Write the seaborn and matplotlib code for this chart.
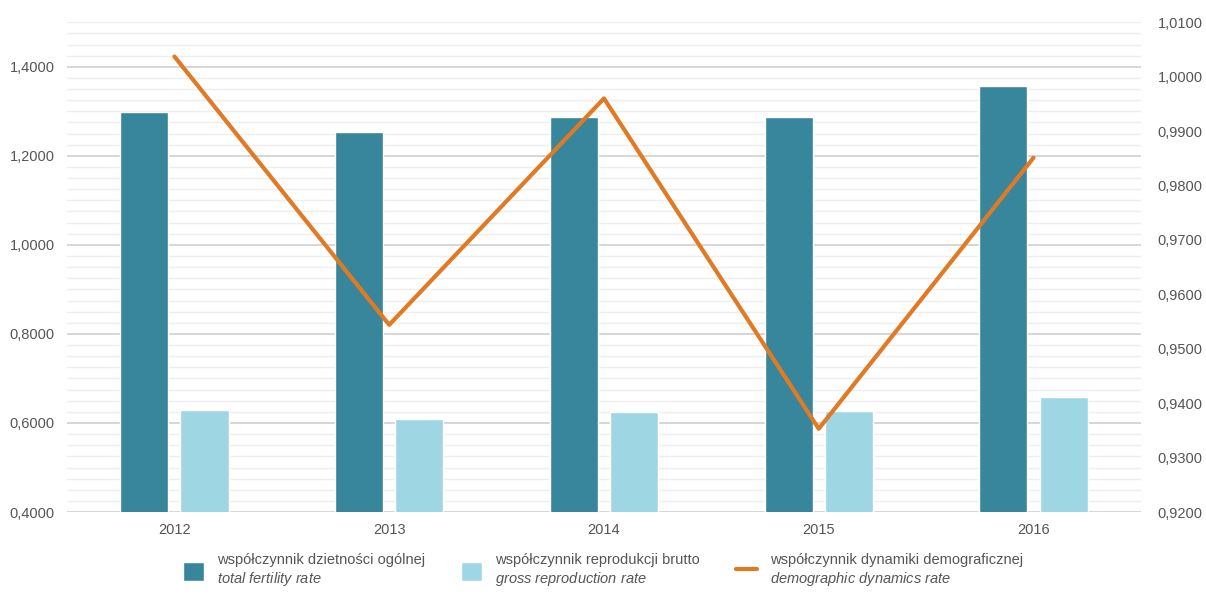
import numpy as np
import pandas as pd
import matplotlib
matplotlib.use("Agg")
import matplotlib.pyplot as plt
from matplotlib.patches import Patch
from matplotlib.lines import Line2D
from matplotlib.ticker import FuncFormatter, MultipleLocator
import seaborn as sns

# dane
years = ["2012", "2013", "2014", "2015", "2016"]
fertility = [1.298, 1.254, 1.288, 1.288, 1.356]      # współczynnik dzietności ogólnej
reproduction = [0.630, 0.609, 0.625, 0.627, 0.659]   # współczynnik reprodukcji brutto
dynamics = [1.0037, 0.9544, 0.9960, 0.9353, 0.9851]  # współczynnik dynamiki demograficznej

labels_pl = ["współczynnik dzietności ogólnej", "współczynnik reprodukcji brutto",
             "współczynnik dynamiki demograficznej"]
labels_en = ["total fertility rate", "gross reproduction rate", "demographic dynamics rate"]

DARK = "#38869c"
LIGHT = "#9fd6e4"
ORANGE = "#e07a25"
TEXT = "#555555"

sns.set_style("white")
plt.rcParams["font.family"] = ["Liberation Sans", "DejaVu Sans"]
plt.rcParams["mathtext.fontset"] = "custom"
plt.rcParams["mathtext.it"] = "Liberation Sans:italic"
plt.rcParams["mathtext.rm"] = "Liberation Sans"


def pl_fmt(v, pos):
    return f"{v:.4f}".replace(".", ",")


df = pd.DataFrame({
    "rok": years * 2,
    "wartosc": fertility + reproduction,
    "seria": [labels_pl[0]] * len(years) + [labels_pl[1]] * len(years),
})

fig = plt.figure(figsize=(12.06, 6.01), dpi=100)
ax = fig.add_axes([0.0556, 0.148, 0.8904, 0.815])

sns.barplot(data=df, x="rok", y="wartosc", hue="seria", palette=[DARK, LIGHT],
            width=0.56, gap=0.2, ax=ax, legend=False, saturation=1, zorder=3)

ax.set_ylim(0.4, 1.5)
ax.set_xlim(-0.5, len(years) - 0.5)
ax.yaxis.set_major_locator(MultipleLocator(0.2))
ax.yaxis.set_minor_locator(MultipleLocator(0.025))
ax.yaxis.set_major_formatter(FuncFormatter(pl_fmt))
ax.grid(which="major", axis="y", color="#cfcfcf", lw=1.2, zorder=0)
ax.grid(which="minor", axis="y", color="#eeeeee", lw=1.0, zorder=0)
ax.set_axisbelow(True)
ax.set_xlabel("")
ax.set_ylabel("")
ax.tick_params(axis="both", which="both", length=0, labelsize=10.5, colors=TEXT)
ax.tick_params(axis="y", pad=9)
ax.tick_params(axis="x", pad=8)
for s in ax.spines.values():
    s.set_visible(False)

ax2 = ax.twinx()
sns.lineplot(x=np.arange(len(years)), y=dynamics, color=ORANGE, lw=3, ax=ax2, zorder=5)
ax2.set_ylim(0.92, 1.01)
ax2.set_xlim(-0.5, len(years) - 0.5)
ax2.yaxis.set_major_locator(MultipleLocator(0.01))
ax2.yaxis.set_major_formatter(FuncFormatter(pl_fmt))
ax2.tick_params(axis="y", which="both", length=0, labelsize=10.5, colors=TEXT, pad=12)
ax2.grid(False)
for s in ax2.spines.values():
    s.set_visible(False)

handles = [Patch(facecolor=DARK), Patch(facecolor=LIGHT), Line2D([], [], color=ORANGE, lw=3)]
leg_labels = []
for pl, en in zip(labels_pl, labels_en):
    leg_labels.append(pl + "\n$\\it{" + en.replace(" ", "\\ ") + "}$")
leg = fig.legend(handles, leg_labels, loc="lower center", bbox_to_anchor=(0.5, 0.0),
                 ncol=3, frameon=False, fontsize=10.5, handlelength=1.4, handleheight=1.6,
                 columnspacing=2.5, handletextpad=0.9, labelcolor=TEXT)

fig.savefig("out.png", dpi=100)
